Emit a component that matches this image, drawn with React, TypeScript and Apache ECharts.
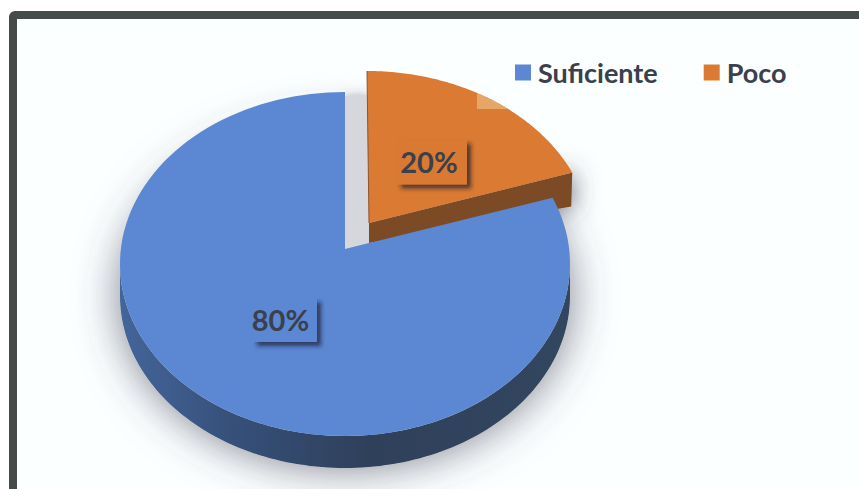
import React, { useEffect, useRef } from "react";
import * as echarts from "echarts";

// Survey answers shown in the pie
const categories = ["Suficiente", "Poco"];
const values = [80, 20];

const BLUE_TOP = "#5c87d3";
const ORANGE_TOP = "#da7a33";
const ORANGE_WALL = "#7c4b26";
const ORANGE_PATCH = "#e6a766";
const INK = "#3a404c";
const PAPER = "#fbffff";
const FONT = "Lato, Carlito, sans-serif";

// Projected disc: ellipse radii, wall depth and how far the hub sits above the ellipse centre
const RX = 225;
const RY = 172;
const DEPTH = 32;
const BLUE_SHIFT = 15 / RY;
const ORANGE_SHIFT = 0.115;
const BLUE_C: [number, number] = [345, 264];
const ORANGE_C: [number, number] = [367, 243];
const ORANGE_HUB: [number, number] = [369, 223];

const total = values.reduce((a, b) => a + b, 0);
const pocoShare = values[1] / total;

// Maps a clockwise share of the pie (0 at twelve o'clock) to the perspective rim
function rim(share: number, c: [number, number], k: number): number[] {
  const a = share * Math.PI * 2;
  const X = Math.sin(a);
  const Y = Math.cos(a);
  const d = 1 + k * Y;
  return [c[0] + (RX * X * Math.sqrt(1 - k * k)) / d, c[1] - (RY * (Y + k)) / d];
}

function arc(from: number, to: number, c: [number, number], k: number, steps = 120): number[][] {
  const pts: number[][] = [];
  for (let i = 0; i <= steps; i++) pts.push(rim(from + ((to - from) * i) / steps, c, k));
  return pts;
}

const blueHub = (): number[] => [BLUE_C[0], BLUE_C[1] - RY * BLUE_SHIFT];

function blueTop(): number[][] {
  return [blueHub(), ...arc(pocoShare, 1, BLUE_C, BLUE_SHIFT)];
}

// Visible outer wall: the lower half of the ellipse and its copy moved down
function blueWall(): number[][] {
  const lower: number[][] = [];
  for (let i = 0; i <= 120; i++) {
    const t = (Math.PI * i) / 120;
    lower.push([BLUE_C[0] + RX * Math.cos(t), BLUE_C[1] + RY * Math.sin(t)]);
  }
  const moved = lower.map((p) => [p[0], p[1] + DEPTH]).reverse();
  return [...lower, ...moved];
}

// Whole disc at the level of the wall's lower edge, used to cast the soft shadow
function baseDisc(): number[][] {
  const pts: number[][] = [];
  for (let i = 0; i < 180; i++) {
    const t = (Math.PI * 2 * i) / 180;
    pts.push([BLUE_C[0] + RX * Math.cos(t), BLUE_C[1] + DEPTH + RY * Math.sin(t)]);
  }
  return pts;
}

function orangeTop(): number[][] {
  return [ORANGE_HUB, ...arc(0, pocoShare, ORANGE_C, ORANGE_SHIFT)];
}

function orangeWall(): number[][] {
  const corner = rim(pocoShare, ORANGE_C, ORANGE_SHIFT);
  return [
    ORANGE_HUB,
    corner,
    [corner[0] - 1, corner[1] + 34],
    [ORANGE_HUB[0], ORANGE_HUB[1] + 20],
  ];
}

// Pale patch cut by the rim of the orange slice, under the legend
function orangePatch(): number[][] {
  const pts: number[][] = [[477, 109]];
  const left = Math.asin((477 - ORANGE_C[0]) / RX);
  const right = Math.acos((ORANGE_C[1] - 109) / RY);
  for (let i = 0; i <= 20; i++) {
    const a = left + ((right - left) * i) / 20;
    pts.push([ORANGE_C[0] + RX * Math.sin(a), ORANGE_C[1] - RY * Math.cos(a)]);
  }
  return pts;
}

function labelGroup(cx: number, cy: number, w: number, h: number, textDx: number, fill: string, value: number) {
  return [
    {
      type: "rect",
      shape: { x: cx - w / 2, y: cy - h / 2, width: w, height: h },
      style: {
        fill,
        shadowBlur: 4,
        shadowColor: "rgba(30,30,45,0.7)",
        shadowOffsetX: 4,
        shadowOffsetY: 4,
      },
    },
    {
      type: "text",
      style: {
        x: cx + textDx,
        y: cy - 1,
        text: `${Math.round((value / total) * 100)}%`,
        fill: INK,
        font: `bold 29px ${FONT}`,
        align: "center",
        verticalAlign: "middle",
      },
    },
  ];
}

function buildOption() {
  return {
    animation: false,
    backgroundColor: "#ffffff",
    tooltip: { show: false },
    legend: {
      data: categories,
      left: 510,
      top: 54,
      itemWidth: 16,
      itemHeight: 16,
      itemGap: 46,
      icon: "rect",
      selectedMode: false,
      textStyle: {
        color: INK,
        fontFamily: FONT,
        fontWeight: "bold",
        fontSize: 27,
        padding: [0, 0, 0, 2],
      },
    },
    graphic: [
      {
        type: "rect",
        z: -10,
        shape: { x: 13, y: 15, width: 960, height: 620, r: 2 },
        style: { fill: PAPER, stroke: "#454a4b", lineWidth: 8 },
      },
    ],
    series: [
      {
        // Soft cast shadow below both slices, plus the grey gap between them
        type: "custom",
        name: "sombra",
        coordinateSystem: "none",
        silent: true,
        z: 1,
        data: [0],
        renderItem: () => {
          const gap = [
            [BLUE_C[0], BLUE_C[1] - RY + 4],
            [ORANGE_C[0], ORANGE_C[1] - RY + 24],
            ORANGE_HUB,
            [ORANGE_HUB[0], ORANGE_HUB[1] + 20],
            blueHub(),
          ];
          return {
            type: "group",
            children: [
              {
                type: "polygon",
                shape: { points: baseDisc() },
                style: { fill: "#d6d7dd", shadowBlur: 44, shadowColor: "rgba(70,70,90,0.7)" },
              },
              {
                type: "polygon",
                shape: { points: orangeWall() },
                style: { fill: "#c9cad2", shadowBlur: 26, shadowColor: "rgba(70,70,90,0.85)" },
              },
              {
                type: "polygon",
                shape: { points: gap },
                style: { fill: "#d6d7dd", shadowBlur: 10, shadowColor: "rgba(150,150,165,0.7)" },
              },
            ],
          };
        },
      },
      {
        type: "custom",
        name: categories[1],
        coordinateSystem: "none",
        silent: true,
        z: 2,
        itemStyle: { color: ORANGE_TOP },
        data: [values[1]],
        renderItem: (_p: unknown, api: any) => ({
          type: "group",
          children: [
            { type: "polygon", shape: { points: orangeWall() }, style: { fill: ORANGE_WALL } },
            { type: "polygon", shape: { points: orangeTop() }, style: { fill: ORANGE_TOP } },
            {
              type: "polyline",
              shape: { points: [rim(0, ORANGE_C, ORANGE_SHIFT), ORANGE_HUB] },
              style: { fill: "none", stroke: "#8d5529", lineWidth: 1 },
            },
            { type: "polygon", shape: { points: orangePatch() }, style: { fill: ORANGE_PATCH } },
            ...labelGroup(432, 162, 70, 45, -3, ORANGE_TOP, api.value(0)),
          ],
        }),
      },
      {
        type: "custom",
        name: categories[0],
        coordinateSystem: "none",
        silent: true,
        z: 3,
        itemStyle: { color: BLUE_TOP },
        data: [values[0]],
        renderItem: (_p: unknown, api: any) => ({
          type: "group",
          children: [
            {
              type: "polygon",
              shape: { points: blueWall() },
              style: {
                fill: {
                  type: "linear",
                  x: 0,
                  y: 0,
                  x2: 1,
                  y2: 0,
                  colorStops: [
                    { offset: 0, color: "#44659a" },
                    { offset: 0.25, color: "#36507a" },
                    { offset: 0.55, color: "#2f405a" },
                    { offset: 1, color: "#33465f" },
                  ],
                },
              },
            },
            { type: "polygon", shape: { points: blueTop() }, style: { fill: BLUE_TOP } },
            ...labelGroup(285, 320, 64, 44, -4.5, BLUE_TOP, api.value(0)),
          ],
        }),
      },
    ],
  };
}

export default function App() {
  const ref = useRef<HTMLDivElement | null>(null);

  useEffect(() => {
    document.body.style.margin = "0";
    document.body.style.background = "#ffffff";
    const chart = echarts.init(ref.current as HTMLDivElement, undefined, { renderer: "svg" });
    chart.setOption(buildOption() as any);
    return () => chart.dispose();
  }, []);

  return <div ref={ref} style={{ width: 859, height: 489, overflow: "hidden" }} />;
}
